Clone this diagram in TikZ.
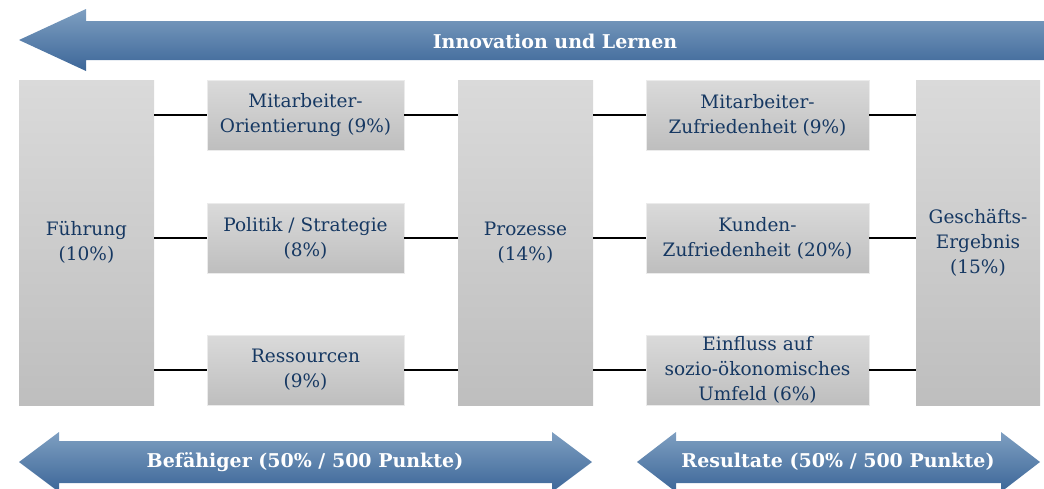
\documentclass[tikz,border=0pt]{standalone}
\usepackage{fontspec}
\setmainfont{DejaVu Serif}
\definecolor{arrowtop}{RGB}{126,159,193}
\definecolor{arrowbot}{RGB}{60,102,152}
\definecolor{boxtop}{RGB}{218,218,218}
\definecolor{boxbot}{RGB}{190,190,190}
\definecolor{textblue}{RGB}{22,56,98}
\tikzset{
  bigbox/.style={rectangle, inner sep=0pt, top color=boxtop, bottom color=boxbot,
    minimum height=325pt, text=textblue, align=center,
    font=\fontsize{18.5}{25}\selectfont},
  smallbox/.style={bigbox, minimum height=70pt, draw=white!92!black, line width=.6pt},
  arrowlabel/.style={text=white, font=\bfseries\fontsize{19}{22}\selectfont},
  arrowshade/.style={top color=arrowtop, bottom color=arrowbot}
}
\begin{document}
\begin{tikzpicture}[x=1pt,y=-1pt]
        \useasboundingbox (0,0) rectangle (1044,488);
        % arrows
        \shade[arrowshade] (19,40) -- (86,9) -- (86,21) -- (1044,21) -- (1044,60)
          -- (86,60) -- (86,71) -- cycle;
        \shade[arrowshade] (19,462) -- (59,432) -- (59,441) -- (552,441) -- (552,432)
          -- (592,462) -- (552,492) -- (552,483) -- (59,483) -- (59,492) -- cycle;
        \shade[arrowshade] (637,462) -- (676,432) -- (676,441) -- (1001,441) -- (1001,432)
          -- (1040,462) -- (1001,492) -- (1001,483) -- (676,483) -- (676,492) -- cycle;
        \node[arrowlabel] (innov) at (555,41) {Innovation und Lernen};
        \node[arrowlabel] (befae) at (305,462) {Befähiger (50\% / 500 Punkte)};
        \node[arrowlabel] (result) at (838,462) {Resultate (50\% / 500 Punkte)};
        % boxes
        \node[bigbox, minimum width=135pt] (fuehrung) at (86.5,242.5) {Führung\\(10\%)};
        \node[bigbox, minimum width=135pt] (prozesse) at (525.5,242.5) {Prozesse\\(14\%)};
        \node[bigbox, minimum width=124pt] (ergebnis) at (978,242.5) {Geschäfts-\\Ergebnis\\(15\%)};
        \node[smallbox, minimum width=197pt] (mitor) at (305.5,115) {Mitarbeiter-\\Orientierung (9\%)};
        \node[smallbox, minimum width=197pt] (politik) at (305.5,238) {Politik / Strategie\\(8\%)};
        \node[smallbox, minimum width=197pt] (ressourcen) at (305.5,370) {Ressourcen\\(9\%)};
        \node[smallbox, minimum width=223pt] (mitzu) at (757.5,115) {Mitarbeiter-\\Zufriedenheit (9\%)};
        \node[smallbox, minimum width=223pt] (kunden) at (757.5,238) {Kunden-\\Zufriedenheit (20\%)};
        \node[smallbox, minimum width=223pt] (einfluss) at (757.5,370) {Einfluss auf\\sozio-ökonomisches\\Umfeld (6\%)};
        % connectors
        \foreach \l/\r in {mitor/mitzu, politik/kunden, ressourcen/einfluss}{
          \draw[line width=1.8pt] (\l.west) -- (\l.west -| fuehrung.east);
          \draw[line width=1.8pt] (\l.east) -- (\l.east -| prozesse.west);
          \draw[line width=1.8pt] (\r.west) -- (\r.west -| prozesse.east);
          \draw[line width=1.8pt] (\r.east) -- (\r.east -| ergebnis.west);
        }
      \end{tikzpicture}
\end{document}
